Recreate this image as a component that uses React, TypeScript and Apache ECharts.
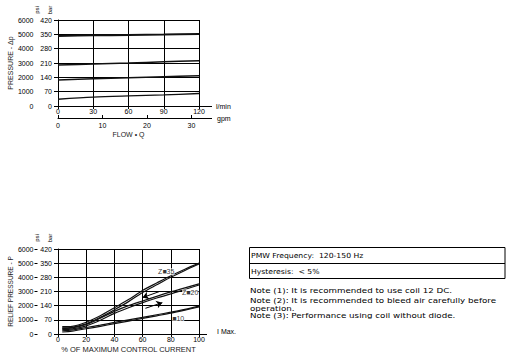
import React, { useEffect, useRef } from "react";
import * as echarts from "echarts";

// ---- Top chart: pressure drop vs flow ----
const flowLmin = [0, 30, 60, 90, 120];
const dpLine350 = [342, 345, 347, 349, 352];
const dpLine210 = [200, 205, 210, 216, 221];
const dpLine140 = [127, 133, 138, 143, 148];
const dpLine70 = [33, 43, 49, 54, 61];
const gpmTicks = [0, 10, 20, 30];
const lminPerGpm = 3.785;

// ---- Bottom chart: relief pressure vs control current ----
const currentPct = [3, 10, 20, 30, 40, 50, 60, 70, 80, 90, 100];
const z35Up = [36, 38, 58, 90, 130, 170, 215, 252, 288, 320, 350];
const z35Down = [30, 33, 50, 82, 120, 160, 205, 243, 280, 314, 346];
const z20Up = [28, 30, 47, 78, 112, 140, 163, 186, 208, 228, 248];
const z20Down = [22, 25, 40, 68, 102, 130, 155, 178, 198, 220, 242];
const z10Up = [16, 20, 32, 44, 57, 70, 82, 95, 108, 122, 138];
const z10Down = [10, 14, 26, 38, 51, 64, 77, 90, 103, 118, 134];
const curveLabels = [
  { name: "Z\u25A035", x: 71, y: 308 },
  { name: "Z\u25A020", x: 88, y: 203 },
  { name: "\u25A010", x: 81, y: 79 },
];
const arrows = [
  { from: [72, 210], to: [60, 180] },
  { from: [62, 127], to: [74, 155] },
];

const notesTable = ["PMW Frequency:  120-150 Hz", "Hysteresis:  < 5%"];
const notes = [
  "Note (1): It is recommended to use coil 12 DC.",
  "Note (2): It is recommended to bleed air carefully before",
  "operation.",
  "Note (3): Performance using coil without diode.",
];

const FONT = "'Liberation Sans Narrow', 'Liberation Sans', Arial, sans-serif";
const NOTE_FONT = "'DejaVu Sans', Verdana, sans-serif";
const INK = "#000";

const L = 58;
const W = 141;
const T0 = 20;
const H0 = 86;
const T1 = 249;
const H1 = 85;

function zip(xs: number[], ys: number[]) {
  return xs.map((x, i) => [x, ys[i]]);
}

export default function App() {
  const ref = useRef<HTMLDivElement>(null);
  useEffect(() => {
    if (!ref.current) return;
    const chart = echarts.init(ref.current, null, { renderer: "svg" });
    const labelStyle = { color: INK, fontSize: 7, fontFamily: FONT };
    const plain = (v: number) => String(Math.round(v));
    const barAxis = (gridIndex: number) => ({
      type: "value",
      gridIndex,
      min: 0,
      max: 420,
      interval: 70,
      position: "left",
      axisLine: { show: true, lineStyle: { color: INK, width: 1 } },
      axisTick: { show: true, length: 4, lineStyle: { color: INK } },
      axisLabel: { ...labelStyle, margin: 6, formatter: plain },
      splitLine: { show: true, lineStyle: { color: INK, width: 1 } },
    });
    const psiAxis = (gridIndex: number, name: string, nameSize: number) => ({
      type: "value",
      gridIndex,
      min: 0,
      max: 6000,
      interval: 1000,
      position: "left",
      offset: 20.5,
      axisLine: { show: false },
      axisTick: { show: true, length: 3, lineStyle: { color: INK } },
      axisLabel: { ...labelStyle, margin: 4, formatter: plain },
      splitLine: { show: false },
      name,
      nameLocation: "middle",
      nameGap: 15,
      nameTextStyle: { color: "#222", fontSize: nameSize, fontFamily: FONT },
    });
    const lineSeries = (xAxisIndex: number, yAxisIndex: number, data: number[][], width: number) => ({
      type: "line",
      xAxisIndex,
      yAxisIndex,
      data,
      showSymbol: false,
      smooth: 0.3,
      lineStyle: { color: "#111", width },
      silent: true,
    });

    const gfx: any[] = [];
    const header = (x: number, y: number, t: string) => ({
      type: "text",
      x,
      y,
      rotation: Math.PI / 2,
      style: { text: t, fontSize: 6, fontFamily: FONT, fill: INK, align: "center", verticalAlign: "middle" },
    });
    gfx.push(header(37, 10, "psi"), header(50, 10, "bar"));
    gfx.push(header(37, T1 - 11, "psi"), header(50, T1 - 11, "bar"));
    const hline = (x1: number, x2: number, y: number) => ({
      type: "line",
      shape: { x1, y1: y, x2, y2: y },
      style: { stroke: INK, lineWidth: 1 },
    });
    gfx.push(hline(L + W, L + W + 13, T0 + H0 + 0.5));
    gfx.push(hline(L + W, L + W + 13, T0 + H0 + 12.5));
    gfx.push(hline(L + W, L + W + 8, T1 + H1 + 0.5));
    const txt = (x: number, y: number, t: string, size: number, fam: string, sx = 1) => ({
      type: "text",
      x,
      y,
      scaleX: sx,
      style: { text: t, fontSize: size, fontFamily: fam, fill: INK, align: "left", verticalAlign: "middle" },
    });
    gfx.push(txt(216, T0 + H0, "l/min", 7, FONT));
    gfx.push(txt(217, T0 + H0 + 12, "gpm", 7, FONT));
    gfx.push(txt(217, T1 + H1 - 3, "I Max.", 7, FONT));
    // table box
    gfx.push({
      type: "rect",
      shape: { x: 249.5, y: 247.5, width: 255.5, height: 31 },
      style: { fill: "none", stroke: INK, lineWidth: 1 },
    });
    gfx.push(hline(249.5, 505, 263.5));
    gfx.push(txt(251, 256, notesTable[0], 7, NOTE_FONT, 1.1));
    gfx.push(txt(251, 271.5, notesTable[1], 7, NOTE_FONT, 1.1));
    const noteY = [290, 300.5, 308, 315.5];
    notes.forEach((n, i) => gfx.push(txt(250, noteY[i], n, 7.5, NOTE_FONT, 1.16)));

    chart.setOption({
      animation: false,
      backgroundColor: "#fff",
      grid: [
        { left: L, top: T0, width: W, height: H0, containLabel: false },
        { left: L, top: T1, width: W, height: H1, containLabel: false },
      ],
      xAxis: [
        {
          type: "value",
          gridIndex: 0,
          min: 0,
          max: 120,
          interval: 30,
          position: "bottom",
          axisLine: { show: true, onZero: false, lineStyle: { color: INK } },
          axisTick: { show: true, length: 3, lineStyle: { color: INK } },
          axisLabel: { ...labelStyle, margin: 2, formatter: plain },
          splitLine: { show: true, lineStyle: { color: INK, width: 1 } },
        },
        {
          type: "value",
          gridIndex: 0,
          min: 0,
          max: 120 / lminPerGpm,
          position: "bottom",
          offset: 12,
          axisLine: { show: true, onZero: false, lineStyle: { color: INK } },
          axisTick: { show: true, inside: true, length: 3, customValues: gpmTicks, lineStyle: { color: INK } },
          axisLabel: { ...labelStyle, margin: 4, customValues: gpmTicks, formatter: plain },
          splitLine: { show: false },
          name: "FLOW \u2022 Q",
          nameLocation: "middle",
          nameGap: 13,
          nameTextStyle: { color: "#222", fontSize: 7, fontFamily: FONT },
        },
        {
          type: "value",
          gridIndex: 1,
          min: 0,
          max: 100,
          interval: 20,
          position: "bottom",
          axisLine: { show: true, onZero: false, lineStyle: { color: INK } },
          axisTick: { show: true, length: 3, lineStyle: { color: INK } },
          axisLabel: { ...labelStyle, margin: 2, formatter: plain },
          splitLine: { show: true, lineStyle: { color: INK, width: 1 } },
          name: "% OF MAXIMUM CONTROL CURRENT",
          nameLocation: "middle",
          nameGap: 11,
          nameTextStyle: { color: "#222", fontSize: 7.5, fontFamily: FONT },
        },
      ],
      yAxis: [
        barAxis(0),
        psiAxis(0, "PRESSURE - \u0394p", 7),
        barAxis(1),
        psiAxis(1, "RELIEF PRESSURE - P", 6.5),
      ],
      series: [
        lineSeries(0, 0, zip(flowLmin, dpLine350), 2),
        lineSeries(0, 0, zip(flowLmin, dpLine210), 1.5),
        lineSeries(0, 0, zip(flowLmin, dpLine140), 1.5),
        lineSeries(0, 0, zip(flowLmin, dpLine70), 1.3),
        lineSeries(2, 2, zip(currentPct, z35Up), 1.2),
        lineSeries(2, 2, zip(currentPct, z35Down), 1.2),
        {
          ...lineSeries(2, 2, zip(currentPct, z20Up), 1.2),
          markLine: {
            silent: true,
            symbol: ["none", "arrow"],
            symbolSize: 6,
            label: { show: false },
            lineStyle: { color: INK, width: 1, type: "solid" },
            data: arrows.map((a) => [{ coord: a.from }, { coord: a.to }]),
          },
        },
        lineSeries(2, 2, zip(currentPct, z20Down), 1.2),
        lineSeries(2, 2, zip(currentPct, z10Up), 1.2),
        lineSeries(2, 2, zip(currentPct, z10Down), 1.2),
        {
          type: "scatter",
          xAxisIndex: 2,
          yAxisIndex: 2,
          symbolSize: 0,
          silent: true,
          z: 5,
          data: curveLabels.map((c) => ({ value: [c.x, c.y], name: c.name })),
          label: {
            show: true,
            position: "right",
            distance: 0,
            formatter: (p: any) => p.name,
            color: INK,
            fontSize: 7,
            fontFamily: FONT,
            backgroundColor: "#fff",
          },
        },
      ],
      graphic: gfx,
    });
    return () => chart.dispose();
  }, []);
  return (
    <div
      ref={ref}
      style={{ position: "fixed", left: 0, top: 0, width: 513, height: 363, background: "#fff" }}
    />
  );
}
